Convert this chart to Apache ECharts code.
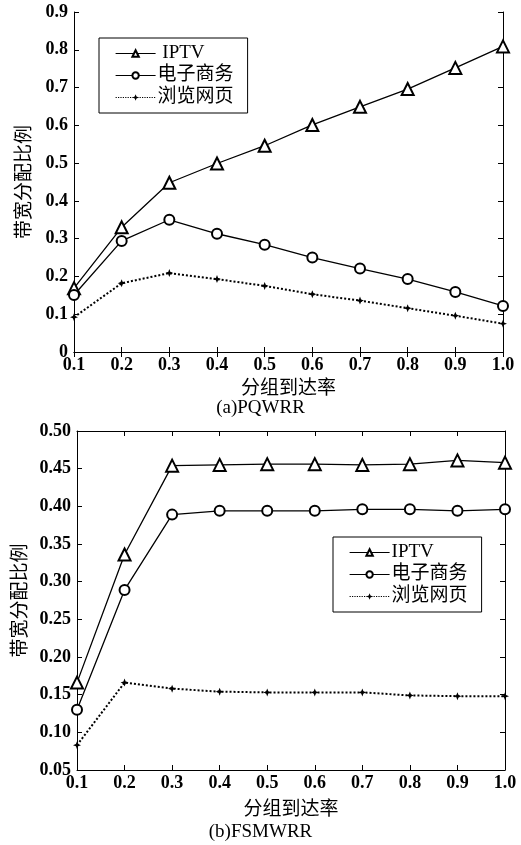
<!DOCTYPE html>
<html><head><meta charset="utf-8">
<script src="https://cdn.jsdelivr.net/npm/echarts@6/dist/echarts.min.js"></script>
<style>html,body{margin:0;padding:0;background:#fff}#c{width:521px;height:845px}</style>
</head><body><div id="c"></div>
<script>
var categories = ['0.1','0.2','0.3','0.4','0.5','0.6','0.7','0.8','0.9','1.0'];
var seriesNames = ['IPTV','电子商务','浏览网页'];
// (a) PQWRR
var a_iptv   = [0.169,0.330,0.448,0.499,0.546,0.601,0.649,0.696,0.752,0.809];
var a_ecom   = [0.151,0.294,0.350,0.313,0.284,0.250,0.221,0.193,0.159,0.122];
var a_web    = [0.092,0.182,0.209,0.193,0.175,0.153,0.136,0.116,0.096,0.075];
// (b) FSMWRR
var b_iptv   = [0.166,0.336,0.454,0.455,0.456,0.456,0.455,0.456,0.461,0.458];
var b_ecom   = [0.130,0.289,0.389,0.394,0.394,0.394,0.396,0.396,0.394,0.396];
var b_web    = [0.083,0.166,0.158,0.154,0.153,0.153,0.153,0.149,0.148,0.148];
var xTitle = '分组到达率';
var yTitle = '带宽分配比例';
var captions = ['(a)PQWRR','(b)FSMWRR'];

var serif = 'Liberation Serif';
var cjk = 'Noto Sans CJK SC';
var starPath = 'path://M0,-5 L1.4,-1.4 L5,0 L1.4,1.4 L0,5 L-1.4,1.4 L-5,0 L-1.4,-1.4 Z';

function mkSeries(name, data, idx){
  var s = {name:name, type:'line', data:data, xAxisIndex:idx*2, yAxisIndex:idx*2,
    color:'#000', animation:false, silent:true};
  if (name==='IPTV'){ s.symbol='emptyTriangle'; s.symbolSize=12; s.lineStyle={color:'#000',width:1.3}; s.itemStyle={borderWidth:1.2}; }
  else if (name==='电子商务'){ s.symbol='emptyCircle'; s.symbolSize=10; s.lineStyle={color:'#000',width:1.3}; s.itemStyle={borderWidth:1.2}; }
  else { s.symbol=starPath; s.symbolSize=8; s.lineStyle={color:'#000',width:2,type:'dotted'}; s.itemStyle={color:'#000'}; }
  return s;
}
var tickLabel = {color:'#000', fontFamily:serif, fontWeight:'bold', fontSize:18};
function xAxes(gi, gap){
  return [
    {type:'category', gridIndex:gi, data:categories, boundaryGap:false,
     axisLine:{lineStyle:{color:'#000',width:1}}, axisTick:{inside:true,length:5,lineStyle:{color:'#000'}},
     axisLabel:Object.assign({margin:4}, tickLabel),
     name:xTitle, nameLocation:'middle', nameGap:gap,
     nameTextStyle:{color:'#000', fontFamily:cjk, fontSize:19}},
    {type:'category', gridIndex:gi, data:categories, boundaryGap:false, position:'top',
     axisLine:{lineStyle:{color:'#000',width:1}}, axisTick:{inside:true,length:5,lineStyle:{color:'#000'}},
     axisLabel:{show:false}}
  ];
}
function yAxes(gi, min, max, step, dec, gap){
  return [
    {type:'value', gridIndex:gi, min:min, max:max, interval:step,
     axisLine:{show:true,lineStyle:{color:'#000',width:1}}, axisTick:{show:true,inside:true,length:5,lineStyle:{color:'#000'}},
     splitLine:{show:false},
     axisLabel:Object.assign({margin:6, formatter:function(v){ return (Math.abs(v)<1e-9)?'0':v.toFixed(dec); }}, tickLabel),
     name:yTitle, nameLocation:'middle', nameGap:gap, nameRotate:90,
     nameTextStyle:{color:'#000', fontFamily:cjk, fontSize:19}},
    {type:'value', gridIndex:gi, min:min, max:max, interval:step, position:'right',
     axisLine:{show:true,lineStyle:{color:'#000',width:1}}, axisTick:{show:true,inside:true,length:5,lineStyle:{color:'#000'}},
     splitLine:{show:false}, axisLabel:{show:false}}
  ];
}
function legend(left, top, fmt){
  return {orient:'vertical', left:left, top:top, width:130,
    data:seriesNames, borderColor:'#000', borderWidth:1, backgroundColor:'#fff',
    padding:[5,14,5,16], itemGap:1, itemWidth:40, itemHeight:8,
    selectedMode:false, formatter:fmt, lineStyle:{width:1.2},
    itemStyle:{borderWidth:1},
    textStyle:{color:'#000', fontFamily:serif+','+cjk, fontSize:19, lineHeight:21, padding:[0,0,0,-3]}};
}
var chart = echarts.init(document.getElementById('c'), null, {renderer:'canvas'});
chart.setOption({
  backgroundColor:'#fff',
  animation:false,
  grid:[{left:74, right:18, top:12, height:340},{left:77, right:16, top:431, height:339}],
  xAxis:xAxes(0,25).concat(xAxes(1,28)),
  yAxis:yAxes(0,0,0.9,0.1,1,42).concat(yAxes(1,0.05,0.5,0.05,2,49)),
  legend:[legend(99,38,function(n){return n==='IPTV'?' IPTV':n;}), legend(333,537,function(n){return n;})],
  series:[
    mkSeries('IPTV',a_iptv,0), mkSeries('电子商务',a_ecom,0), mkSeries('浏览网页',a_web,0),
    mkSeries('IPTV',b_iptv,1), mkSeries('电子商务',b_ecom,1), mkSeries('浏览网页',b_web,1)
  ],
  graphic:[
    {type:'text', left:'center', top:399, style:{text:captions[0], fill:'#000', font:'19px "Liberation Serif"'}},
    {type:'text', left:'center', top:823, style:{text:captions[1], fill:'#000', font:'19px "Liberation Serif"'}}
  ]
});
</script></body></html>
